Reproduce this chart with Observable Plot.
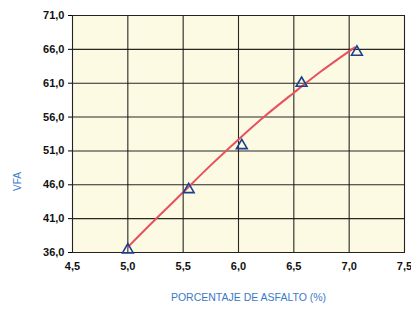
<!DOCTYPE html>
<html><head><meta charset="utf-8">
<script src="https://cdn.jsdelivr.net/npm/d3@7"></script>
<script src="https://cdn.jsdelivr.net/npm/@observablehq/plot@0.6"></script>
<style>body{margin:0;background:#fff;font-family:"Liberation Sans",Arial,sans-serif}</style>
</head><body><div id="chart"></div>
<script>
const asphalt = [5.0, 5.55, 6.03, 6.57, 7.07];
const vfa = [36.4, 45.3, 51.8, 61.0, 65.6];
const fitX = [5.0, 5.25, 5.5, 5.75, 6.0, 6.25, 6.5, 6.75, 7.05];
const fitY = [36.8, 40.9, 44.9, 48.9, 52.7, 56.3, 59.6, 62.8, 66.3];
const xTicks = [4.5, 5.0, 5.5, 6.0, 6.5, 7.0, 7.5];
const yTicks = [36, 41, 46, 51, 56, 61, 66, 71];
const xLabel = "PORCENTAJE DE ASFALTO (%)";
const yLabel = "VFA";

const pts = asphalt.map((x, i) => ({x, y: vfa[i]}));
const fit = fitX.map((x, i) => ({x, y: fitY[i]}));
const fmt = d => d.toFixed(1).replace(".", ",");

const chart = Plot.plot({
  width: 411, height: 322,
  marginLeft: 72, marginRight: 7, marginTop: 15, marginBottom: 70,
  style: {fontFamily: "'Liberation Sans', Arial, sans-serif", fontSize: "11px", background: "#fff"},
  x: {domain: [4.5, 7.5], ticks: xTicks, tickFormat: fmt, label: null},
  y: {domain: [36, 71], ticks: yTicks, tickFormat: fmt, label: null},
  marks: [
    Plot.frame({fill: "#fcfae2", stroke: "none"}),
    Plot.gridX(xTicks, {stroke: "#111", strokeOpacity: 0.9, strokeWidth: 1.1}),
    Plot.gridY(yTicks, {stroke: "#111", strokeOpacity: 0.9, strokeWidth: 1.1}),
    Plot.frame({stroke: "#222", strokeWidth: 1}),
    Plot.axisX(xTicks, {tickFormat: fmt, tickSize: 0, tickPadding: 10, fill: "#111", fontWeight: "bold", fontSize: 11}),
    Plot.axisY(yTicks, {tickFormat: fmt, tickSize: 4, tickPadding: 4, fill: "#111", fontWeight: "bold", fontSize: 11}),
    Plot.line(fit, {x: "x", y: "y", stroke: "#e8505f", strokeWidth: 2, curve: "natural"}),
    Plot.dot(pts, {x: "x", y: "y", symbol: "triangle", r: 4, stroke: "#1b3f8f", strokeWidth: 1.6, fill: "none"}),
    Plot.text([xLabel], {frameAnchor: "bottom", dy: 48, dx: 10, fill: "#3a79c8", fontSize: 10.5, text: d => d}),
    Plot.text([yLabel], {frameAnchor: "left", dx: -55, dy: 57, rotate: -90, fill: "#3a79c8", fontSize: 10, text: d => d})
  ]
});
document.getElementById("chart").append(chart);
</script></body></html>
